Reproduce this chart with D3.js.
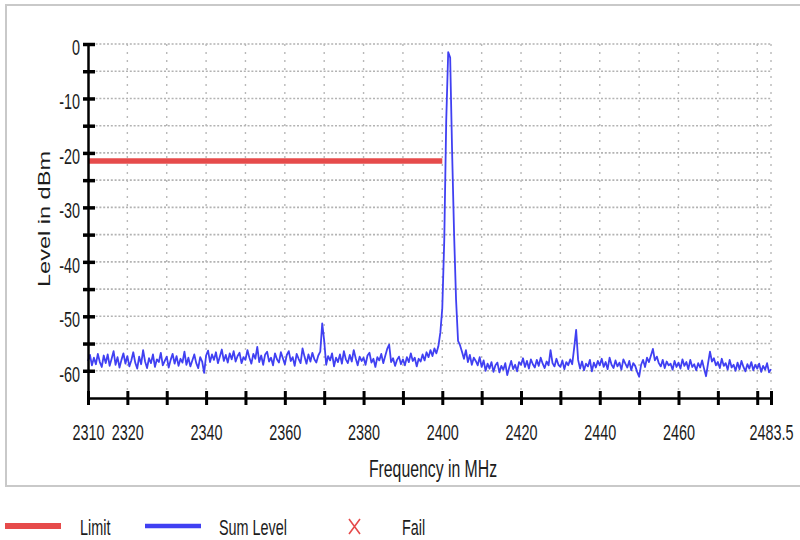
<!DOCTYPE html>
<html><head><meta charset="utf-8">
<script src="https://cdn.jsdelivr.net/npm/d3@7"></script>
<style>
body{margin:0;background:#fff}
svg{display:block}
text{font-family:"Liberation Sans",Arial,sans-serif;fill:#1c1c1c}
</style>
</head><body>
<svg id="chart" width="800" height="540"></svg>
<script>
// ---- data ----
const freqStart = 2310;   // MHz, first sample
const freqStep = 0.5;     // MHz between samples
const sumLevel = [
  -58.2,-57.1,-59.0,-57.6,-58.8,-56.9,-58.4,-59.3,-57.2,-58.6,
  -57.0,-59.1,-57.8,-56.4,-58.9,-57.5,-59.4,-58.0,-56.8,-58.7,
  -57.3,-59.2,-58.1,-56.6,-58.5,-59.6,-57.4,-58.8,-56.2,-58.3,
  -59.5,-57.7,-58.6,-57.0,-59.3,-57.9,-58.4,-56.7,-59.0,-58.2,
  -57.4,-59.4,-58.0,-56.9,-58.7,-57.3,-59.1,-57.8,-58.5,-56.5,
  -58.9,-57.6,-59.2,-58.1,-57.0,-58.6,-59.5,-57.5,-58.3,-60.4,
  -57.2,-56.3,-58.4,-57.0,-58.0,-56.6,-58.6,-57.4,-56.1,-58.2,
  -57.1,-58.5,-56.8,-57.9,-56.4,-58.3,-57.3,-56.7,-58.6,-57.5,
  -58.0,-56.2,-57.6,-58.7,-56.9,-57.8,-55.6,-58.4,-57.2,-58.9,
  -57.0,-56.5,-58.3,-57.6,-59.0,-56.8,-57.9,-58.5,-56.6,-57.7,
  -58.8,-57.1,-56.4,-58.2,-57.5,-59.1,-56.9,-57.8,-58.6,-55.9,
  -57.4,-58.7,-57.0,-58.3,-56.7,-57.9,-58.5,-57.2,-56.5,-51.3,
  -54.5,-58.9,-57.3,-58.1,-56.8,-59.2,-57.6,-58.4,-57.0,-58.7,
  -56.4,-57.9,-58.6,-57.1,-58.3,-56.2,-57.7,-59.0,-57.4,-58.2,
  -57.6,-58.9,-57.2,-56.7,-58.5,-57.8,-59.3,-57.5,-58.1,-56.9,
  -58.6,-57.3,-56.0,-55.2,-58.4,-57.7,-59.1,-58.0,-57.4,-58.8,
  -57.9,-59.0,-57.5,-58.4,-56.8,-58.2,-57.6,-59.2,-57.8,-58.3,
  -57.0,-58.1,-56.6,-57.5,-56.2,-57.3,-55.9,-56.8,-55.5,-53.0,
  -48.5,-36.0,-14.0,-1.5,-2.5,-20.0,-35.0,-47.0,-54.5,-55.3,
  -56.5,-57.8,-56.2,-58.4,-57.1,-58.9,-57.6,-58.2,-59.0,-57.5,
  -59.3,-58.1,-60.0,-58.7,-59.6,-58.4,-60.2,-59.0,-58.5,-60.3,
  -59.1,-59.8,-58.6,-60.8,-59.4,-58.2,-59.7,-58.9,-60.1,-58.4,
  -58.9,-57.7,-59.3,-58.2,-59.6,-57.9,-58.8,-59.4,-58.0,-59.1,
  -57.6,-58.7,-59.5,-58.3,-59.0,-56.2,-58.6,-59.2,-57.8,-58.9,
  -59.3,-58.1,-59.7,-58.4,-59.0,-57.9,-58.8,-55.8,-52.5,-58.0,
  -59.6,-58.3,-59.9,-58.7,-59.2,-58.0,-60.1,-58.5,-59.4,-58.2,
  -59.0,-57.8,-59.3,-58.4,-59.7,-57.6,-58.9,-59.5,-58.1,-59.2,
  -58.5,-59.8,-57.9,-58.7,-59.4,-58.2,-59.9,-58.6,-59.1,-60.2,
  -61.1,-58.9,-58.0,-59.3,-57.6,-58.4,-57.2,-56.0,-58.1,-57.4,
  -58.6,-59.2,-58.0,-59.5,-58.3,-59.0,-58.7,-59.8,-58.2,-59.3,
  -58.5,-59.6,-57.9,-59.1,-58.4,-59.7,-58.0,-59.3,-58.8,-59.9,
  -58.6,-59.4,-58.1,-59.6,-61.0,-58.7,-56.5,-58.3,-57.7,-59.0,
  -58.4,-59.5,-57.8,-59.1,-58.6,-59.8,-58.0,-59.4,-58.9,-60.0,
  -58.5,-59.7,-58.2,-59.3,-60.1,-58.8,-59.6,-58.4,-59.9,-58.9,
  -59.6,-58.7,-60.2,-59.1,-59.8,-58.6,-60.3,-59.7
];
const limitFreq = [2310, 2400];
const limitLevel = [-21.5, -21.5];
const xTickValues = [2310,2320,2330,2340,2350,2360,2370,2380,2390,2400,2410,2420,2430,2440,2450,2460,2470,2480,2483.5];
const xTickLabels = [2310,2320,2340,2360,2380,2400,2420,2440,2460,2483.5];
const yTickValues = [0,-5,-10,-15,-20,-25,-30,-35,-40,-45,-50,-55,-60];
const yTickLabels = [0,-10,-20,-30,-40,-50,-60];
const legendNames = ["Limit", "Sum Level", "Fail"];
const xTitle = "Frequency in MHz";
const yTitle = "Level in dBm";

// ---- drawing ----
const svg = d3.select("#chart");
const RED = "#e64b4b", BLUE = "#4040f2";
const x = d3.scaleLinear().domain([2310, 2483.5]).range([88, 771]);
const y = d3.scaleLinear().domain([0, -65]).range([44, 398]);

// outer frame
svg.append("rect").attr("x", 6).attr("y", 5).attr("width", 800).attr("height", 481)
  .attr("fill", "#fff").attr("stroke", "#c9c9c9").attr("stroke-width", 2);

// grid
const grid = svg.append("g");
grid.selectAll("line.h").data(yTickValues).join("line")
  .attr("x1", x(2310)).attr("x2", x(2483.5))
  .attr("y1", d => y(d)).attr("y2", d => y(d))
  .attr("stroke", "#b3b3b3").attr("stroke-width", 1.6).attr("stroke-dasharray", "2,1.8");
grid.selectAll("line.v").data(xTickValues.slice(1)).join("line")
  .attr("x1", d => x(d)).attr("x2", d => x(d))
  .attr("y1", y(0)).attr("y2", y(-65))
  .attr("stroke", "#b8b8b8").attr("stroke-width", 1.4).attr("stroke-dasharray", "2,6");

// limit line
const limitData = limitFreq.map((f, i) => [f, limitLevel[i]]);
svg.append("path").datum(limitData)
  .attr("d", d3.line().x(d => x(d[0])).y(d => y(d[1])))
  .attr("fill", "none").attr("stroke", RED).attr("stroke-width", 5.5);

// sum level trace
svg.append("path").datum(sumLevel)
  .attr("d", d3.line().x((d, i) => x(freqStart + i * freqStep)).y(d => y(d)))
  .attr("fill", "none").attr("stroke", BLUE).attr("stroke-width", 1.8).attr("stroke-linejoin", "round");

// y axis
const yAxis = svg.append("g").attr("transform", `translate(${x(2310)},0)`)
  .call(d3.axisLeft(y).tickValues(yTickValues).tickSizeOuter(0)
    .tickFormat(d => yTickLabels.includes(d) ? String(d) : ""));
yAxis.attr("font-size", null).attr("font-family", null);
yAxis.select(".domain").attr("stroke", "#000").attr("stroke-width", 2.5);
yAxis.selectAll(".tick line").attr("x1", -5).attr("x2", 7).attr("stroke", "#000").attr("stroke-width", 3.5);
yAxis.selectAll(".tick text").attr("x", 0).attr("y", 0).attr("dy", null)
  .attr("transform", "translate(-8,10.5) scale(1,1.47)")
  .style("font-size", "14.4px").attr("text-anchor", "end").attr("fill", "#1c1c1c");

// x axis
const xAxis = svg.append("g").attr("transform", `translate(0,${y(-65)})`)
  .call(d3.axisBottom(x).tickValues(xTickValues).tickSizeOuter(0)
    .tickFormat(d => xTickLabels.includes(d) ? String(d) : ""));
xAxis.attr("font-size", null).attr("font-family", null);
xAxis.select(".domain").attr("stroke", "#000").attr("stroke-width", 2.5);
xAxis.selectAll(".tick line").attr("y1", -7).attr("y2", 7).attr("stroke", "#000").attr("stroke-width", 3);
xAxis.selectAll(".tick text").attr("y", 0).attr("dy", null)
  .attr("transform", "translate(0,42) scale(1,1.47)")
  .style("font-size", "14.4px").attr("fill", "#1c1c1c");

// axis titles
svg.append("text").attr("transform", "translate(433,477) scale(1,1.47)")
  .attr("text-anchor", "middle").style("font-size", "15.8px").text(xTitle);
svg.append("text").attr("transform", "translate(50,219) rotate(-90) scale(1.47,1)")
  .attr("text-anchor", "middle").style("font-size", "16px").text(yTitle);

// legend
const leg = svg.append("g");
leg.append("line").attr("x1", 5).attr("x2", 61).attr("y1", 526).attr("y2", 526)
  .attr("stroke", RED).attr("stroke-width", 6);
leg.append("line").attr("x1", 145).attr("x2", 201).attr("y1", 526).attr("y2", 526)
  .attr("stroke", BLUE).attr("stroke-width", 4.5);
leg.append("path").attr("d", "M349,519L360,534M360,519L349,534")
  .attr("stroke", RED).attr("stroke-width", 1.6).attr("fill", "none");
const legX = [80, 219, 402];
leg.selectAll("text").data(legendNames).join("text")
  .attr("transform", (d, i) => `translate(${legX[i]},535) scale(1,1.47)`)
  .style("font-size", "14.4px").text(d => d);
</script>
</body></html>
